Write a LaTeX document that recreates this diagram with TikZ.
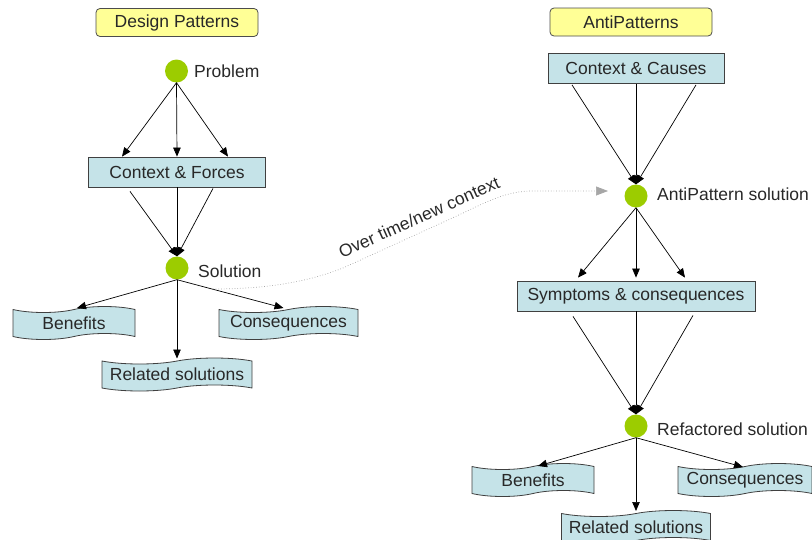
\documentclass[tikz,border=0pt]{standalone}
\usepackage{fontspec}
\setmainfont{Liberation Sans}
\usetikzlibrary{arrows.meta,shapes.symbols,calc}

\definecolor{titleyellow}{RGB}{255,255,150}
\definecolor{boxblue}{RGB}{197,227,232}
\definecolor{dotgreen}{RGB}{156,204,0}
\definecolor{inkgray}{RGB}{40,40,40}

\begin{document}
\begin{tikzpicture}[x=1pt,y=-1pt,
  every node/.style={font=\fontsize{17.5}{20}\selectfont, text=inkgray},
  titlebox/.style={rectangle, rounded corners=4pt, draw=black!70, line width=0.8pt,
    fill=titleyellow, minimum height=28pt, inner sep=0pt},
  stepbox/.style={rectangle, draw=black!75, line width=0.8pt, fill=boxblue,
    minimum height=30pt, inner sep=0pt},
  dot/.style={circle, fill=dotgreen, minimum size=23pt, inner sep=0pt},
  dotlabel/.style={anchor=base west, inner sep=0pt},
  sheet/.style={tape, draw=black!75, line width=0.8pt, fill=boxblue,
    tape bend top=in and out, tape bend bottom=in and out,
    tape bend height=6pt, minimum height=33pt, inner sep=0pt},
  arr/.style={-{Triangle[length=9pt,width=7.5pt]}, line width=0.7pt, black},
  drift/.style={dotted, line width=0.7pt, gray!70,
    -{Triangle[length=12pt,width=9pt,fill=gray!70]}}
]
\useasboundingbox (0,0) rectangle (812,539);

% ---------- Design Patterns ----------
\node[titlebox, minimum width=162pt] (dp) at (177,22.5) {Design Patterns};
\node[dot] (prob) at (176.5,71) {};
\node[dotlabel] (problab) at (194,77) {Problem};
\node[stepbox, minimum width=177pt] (cf) at (177,172) {Context \& Forces};
\node[dot] (sol) at (177,268) {};
\node[dotlabel] (sollab) at (198,277) {Solution};
\node[sheet, minimum width=122pt] (lben) at (74,323) {Benefits};
\node[sheet, minimum width=139pt] (lcon) at (288.5,323) {Consequences};
\node[sheet, minimum width=150pt] (lrel) at (177,374.5) {Related solutions};

\draw[arr] (prob.south) -- ($(cf.north)+(-55,0)$);
\draw[arr] (prob.south) -- (cf.north);
\draw[arr] (prob.south) -- ($(cf.north)+(51,0)$);

\draw[arr] ($(cf.south)+(-47,4)$) -- (sol.north);
\draw[arr] (cf.south) -- (sol.north);
\draw[arr] ($(cf.south)+(36,1)$) -- (sol.north);

\draw[arr] (sol.south) -- ($(lben.center)+(3,-15)$);
\draw[arr] (sol.south) -- ($(lrel.center)+(0,-16)$);
\draw[arr] (sol.south) -- ($(lcon.center)+(-5,-15)$);

% ---------- AntiPatterns ----------
\node[titlebox, minimum width=162pt] (ap) at (631,22) {AntiPatterns};
\node[stepbox, minimum width=176pt] (cc) at (636,68.5) {Context \& Causes};
\node[dot] (aps) at (636,196) {};
\node[dotlabel] (apslab) at (657,200) {AntiPattern solution};
\node[stepbox, minimum width=238pt] (sym) at (636,296) {Symptoms \& consequences};
\node[dot] (ref) at (636,426) {};
\node[dotlabel] (reflab) at (657,435) {Refactored solution};
\node[sheet, minimum width=122pt] (rben) at (533,480) {Benefits};
\node[sheet, minimum width=134pt] (rcon) at (745,480) {Consequences};
\node[sheet, minimum width=149pt] (rrel) at (636,527) {Related solutions};

\draw[arr] ($(cc.south)+(-64,1)$) -- (aps.north);
\draw[arr] (cc.south) -- (aps.north);
\draw[arr] ($(cc.south)+(60,1)$) -- (aps.north);

\draw[arr] (aps.south) -- ($(sym.north)+(-58,-3)$);
\draw[arr] (aps.south) -- ($(sym.north)+(0,-3)$);
\draw[arr] (aps.south) -- ($(sym.north)+(49,-3)$);

\draw[arr] ($(sym.south)+(-63,5)$) -- (ref.north);
\draw[arr] (sym.south) -- (ref.north);
\draw[arr] ($(sym.south)+(57,4)$) -- (ref.north);

\draw[arr] (ref.south) -- ($(rben.center)+(5,-14)$);
\draw[arr] (ref.south) -- ($(rrel.center)+(0,-16)$);
\draw[arr] (ref.south) -- ($(rcon.center)+(-2,-13)$);

% ---------- drift from solution to antipattern ----------
\draw[drift] ($(sol.center)+(36,21)$)
  .. controls ($(sol.center)+(93,21)$) and ($(sol.center)+(133,13)$) .. ($(sol.center)+(166,0)$)
  -- ($(aps.center)+(-199,29)$)
  .. controls ($(aps.center)+(-156,10)$) and ($(aps.center)+(-136,-4)$) .. ($(aps.center)+(-106,-5)$)
  -- ($(aps.center)+(-28,-5)$);
\node[rotate=24, inner sep=0pt] (drifttext) at (419,217) {Over time/new context};
\end{tikzpicture}
\end{document}
